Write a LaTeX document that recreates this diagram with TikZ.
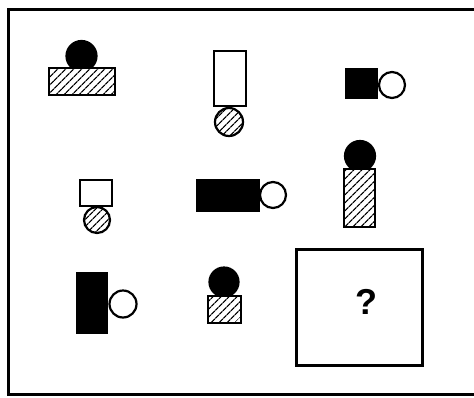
\documentclass[tikz,border=0pt]{standalone}
\usepackage{fontspec}
\setsansfont{Liberation Sans}
\usetikzlibrary{patterns.meta}
\definecolor{PuzInk}{HTML}{000000}

\begin{document}
\begin{tikzpicture}[x=1pt, y=-1pt,
    every node/.style={inner sep=0pt, line width=2.2pt, draw=PuzInk},
    hatchbox/.style={rectangle, preaction={fill=white}, pattern={Lines[angle=45, distance=5.4pt, line width=1.3pt]}, pattern color=PuzInk},
    whitebox/.style={rectangle, fill=white},
    blackbox/.style={rectangle, fill=PuzInk},
    hatchdot/.style={circle, preaction={fill=white}, pattern={Lines[angle=45, distance=5.4pt, line width=1.3pt]}, pattern color=PuzInk},
    whitedot/.style={circle, fill=white},
    blackdot/.style={circle, fill=PuzInk}]
    \useasboundingbox (0,0) rectangle (474,397);
    \fill[white] (0,0) rectangle (474,397);
    \draw[line width=3pt, PuzInk] (8,9) rectangle (478,394);

    % row 1
    \node[blackdot, minimum size=30pt] (dotA) at (81.5,56) {};
    \node[hatchbox, minimum width=66pt, minimum height=27pt] (boxA) at (82,81.5) {};
    \node[hatchdot, minimum size=28pt] (dotB) at (229,122) {};
    \node[whitebox, minimum width=32pt, minimum height=55pt] (boxB) at (230,78.5) {};
    \node[whitedot, minimum size=26pt] (dotC) at (392,85) {};
    \node[blackbox, minimum width=31pt, minimum height=29pt] (boxC) at (361.5,83.5) {};

    % row 2
    \node[hatchdot, minimum size=26pt] (dotD) at (97,220) {};
    \node[whitebox, minimum width=32pt, minimum height=26pt] (boxD) at (96,193) {};
    \node[whitedot, minimum size=26pt] (dotE) at (273,195) {};
    \node[blackbox, minimum width=62pt, minimum height=31pt] (boxE) at (228,195.5) {};
    \node[blackdot, minimum size=30pt] (dotF) at (360,156) {};
    \node[hatchbox, minimum width=31pt, minimum height=58pt] (boxF) at (359.5,198) {};

    % row 3
    \node[whitedot, minimum size=27pt] (dotG) at (123,304) {};
    \node[blackbox, minimum width=30pt, minimum height=60pt] (boxG) at (92,303) {};
    \node[blackdot, minimum size=29pt] (dotH) at (224,282) {};
    \node[hatchbox, minimum width=33pt, minimum height=27pt] (boxH) at (224.5,309.5) {};
    \node[whitebox, line width=3pt, minimum width=126pt, minimum height=116pt] (answer) at (359.5,307.5) {};
    \node[draw=none, font=\sffamily\bfseries\fontsize{36}{36}\selectfont] (ask) at (366,302) {?};
  \end{tikzpicture}
\end{document}
